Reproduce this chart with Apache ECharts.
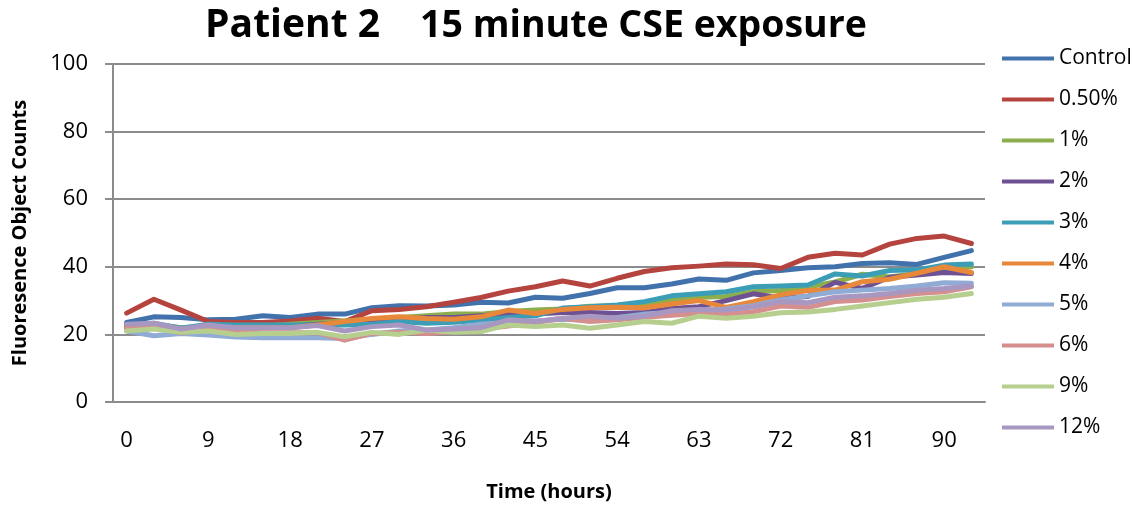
<!DOCTYPE html>
<html>
<head>
<meta charset="utf-8">
<title>Patient 2 15 minute CSE exposure</title>
<script src="https://cdn.jsdelivr.net/npm/echarts@6/dist/echarts.min.js"></script>
<style>
  html, body { margin: 0; padding: 0; background: #ffffff; }
  #chart { width: 1141px; height: 506px; }
</style>
</head>
<body>
<div id="chart"></div>
<script>
// Time points in hours (every 3 h)
const hours = ['0','3','6','9','12','15','18','21','24','27','30','33','36','39','42','45',
               '48','51','54','57','60','63','66','69','72','75','78','81','84','87','90','93'];

const seriesNames = ['Control','0.50%','1%','2%','3%','4%','5%','6%','9%','12%'];

// Fluorescence object counts per CSE concentration
const control = [23.5,25.2,25,24.3,24.5,25.5,25,26,26,27.9,28.5,28.4,28.7,29.5,29.3,31,
                 30.7,32.1,33.8,33.8,34.9,36.4,36,38.2,38.9,39.7,40,41,41.2,40.7,42.8,44.8];
const p050 = [26.3,30.4,27.2,23.8,23.5,23.5,24,24.8,23.8,27,27.4,28.2,29.5,30.9,32.8,34.1,
              35.8,34.3,36.6,38.6,39.7,40.2,40.8,40.6,39.5,42.8,44,43.5,46.7,48.4,49.1,46.9];
const p1 = [22.5,23,22,22.5,22.5,22.5,23,23.5,24,24.5,25,25.5,26,26,26.8,27.2,
            27.5,28.3,28.5,29,30,31,31.2,32.6,33,34,35.5,37.8,37,38,39.5,40];
const p2 = [22,22.5,21.5,22,22,22,22.5,23,23.5,24,24.5,25,25,25.5,26,26,
            26.5,26.5,26.2,26.5,27.7,28.2,30,32,30.7,31.2,35.4,33.6,36.9,37.6,38.3,38];
const p3 = [22.8,23.3,21.8,23,22.8,22.8,22.8,22.8,22.8,23,23.8,23.3,23.6,24.2,25,25.5,
            27.8,28.2,28.7,29.7,31.4,32,32.6,34.1,34.3,34.6,37.9,37.3,38.9,39.1,40.5,40.8];
const p4 = [22,22.5,21.5,22,22,22,22,22.8,23.8,24.7,25.2,24.7,24.5,25.2,27.2,26.2,
            27.4,27.9,28,27.9,29,30,28,29.7,31.7,33,33.1,35.6,36.3,38.1,40,38.3];
const p5 = [21,19.6,20.3,19.8,19.2,19,19,19,18.8,20,21,21.3,22,23,23.5,24,
            24.5,24.2,25,26,26.5,27,27.5,28.5,30.2,31.4,32.6,33.1,33.6,34.3,35.3,35.1];
const p6 = [21.5,22,20.5,21.5,21,20.5,20.5,20.5,18.3,20.3,20.6,20.3,20.8,21.5,22.5,23.5,
            24.8,23.8,24.3,25.1,25.7,26.2,26,26.7,28.4,28,29.7,30.2,31.2,32.1,32.6,34.1];
const p9 = [21,21.6,20.6,21,20,20.3,20.3,20.6,19.3,20.6,20,21.3,20.6,20.8,22.8,22.3,
            22.8,21.8,22.8,23.8,23.3,25.4,24.8,25.4,26.4,26.6,27.4,28.4,29.4,30.4,31,32.1];
const p12 = [23,23.3,21.6,22.8,22,22,22,22.6,21,22.3,22.8,21.3,21.6,22,24.3,23.8,
             24.8,25.4,24.8,25.4,27,27.4,27.2,28.2,29.7,29.4,31,31.4,32.1,33.1,33.6,34.3];

const seriesData = [control, p050, p1, p2, p3, p4, p5, p6, p9, p12];
const colors = ['#4272AC','#B5443F','#8CAE4C','#6E5193','#3C9EB6','#E8883A',
                '#90ACD4','#D48F8E','#B6CF8F','#A897C1'];

const fontFam = '"Open Sans", Lato, sans-serif';

const chart = echarts.init(document.getElementById('chart'), null, { renderer: 'canvas' });

chart.setOption({
  animation: false,
  backgroundColor: '#ffffff',
  color: colors,
  title: {
    text: '{a|Patient 2}{b|15 minute CSE exposure}',
    left: 531,
    textAlign: 'center',
    top: 1,
    textStyle: {
      rich: {
        a: { fontFamily: fontFam, fontWeight: 'bold', fontSize: 39, lineHeight: 40, color: '#000000' },
        b: { fontFamily: fontFam, fontWeight: 'bold', fontSize: 37.5, lineHeight: 40, color: '#000000',
             padding: [0, 0, 0, 40] }
      }
    }
  },
  legend: {
    orient: 'vertical',
    left: 997,
    top: 43,
    itemWidth: 52,
    itemHeight: 4,
    itemGap: 20,
    icon: 'rect',
    textStyle: { fontFamily: fontFam, fontSize: 21, lineHeight: 21, color: '#000000' },
    data: seriesNames
  },
  grid: { left: 113, right: 156, top: 64, bottom: 104, outerBoundsMode: 'none', containLabel: false },
  xAxis: {
    type: 'category',
    data: hours,
    boundaryGap: true,
    name: 'Time (hours)',
    nameLocation: 'middle',
    nameGap: 80,
    nameTextStyle: { fontFamily: fontFam, fontWeight: 'bold', fontSize: 20, color: '#000000' },
    axisLine: { lineStyle: { color: '#8c8c8c', width: 2 } },
    axisTick: { show: false },
    axisLabel: { interval: 2, margin: 28, fontFamily: fontFam, fontSize: 22, color: '#000000' },
    splitLine: { show: false }
  },
  yAxis: {
    type: 'value',
    min: 0,
    max: 100,
    interval: 20,
    name: 'Fluoresence Object Counts',
    nameLocation: 'middle',
    nameGap: 83,
    nameRotate: 90,
    nameTextStyle: { fontFamily: fontFam, fontWeight: 'bold', fontSize: 20, color: '#000000' },
    axisLine: { show: true, lineStyle: { color: '#8c8c8c', width: 2 } },
    axisTick: { show: true, length: 8, lineStyle: { color: '#8c8c8c', width: 2 } },
    axisLabel: { margin: 25, fontFamily: fontFam, fontSize: 22, color: '#000000' },
    splitLine: { show: true, lineStyle: { color: '#8c8c8c', width: 2 } }
  },
  series: seriesNames.map((name, i) => ({
    name: name,
    type: 'line',
    data: seriesData[i],
    showSymbol: false,
    symbol: 'none',
    lineStyle: { width: 5, color: colors[i], join: 'round', cap: 'round' },
    itemStyle: { color: colors[i] },
    z: 2 + i
  }))
});
</script>
</body>
</html>
